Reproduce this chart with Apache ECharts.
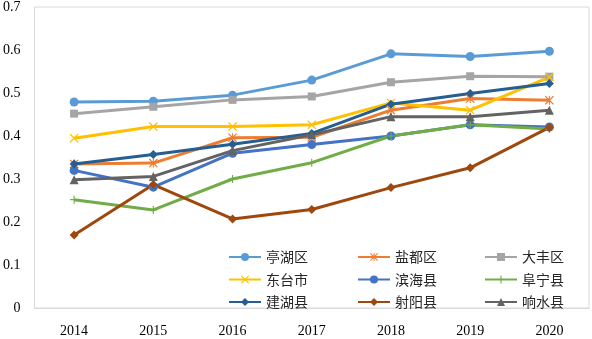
<!DOCTYPE html>
<html>
<head>
<meta charset="utf-8">
<script src="https://cdn.jsdelivr.net/npm/echarts@6/dist/echarts.min.js"></script>
</head>
<body style="margin: 0; padding: 0; background: #fff">
<div id="line" style="width: 592px; height: 339px"></div>
<script>
var years = ["2014", "2015", "2016", "2017", "2018", "2019", "2020"];
var yTicks = [0, 0.1, 0.2, 0.3, 0.4, 0.5, 0.6, 0.7];

var tinghu = [0.479, 0.481, 0.495, 0.530, 0.591, 0.585, 0.597];
var yandu = [0.335, 0.337, 0.396, 0.397, 0.460, 0.487, 0.483];
var dafeng = [0.452, 0.468, 0.484, 0.492, 0.525, 0.539, 0.538];
var dongtai = [0.395, 0.422, 0.422, 0.426, 0.477, 0.460, 0.537];
var binhai = [0.320, 0.281, 0.360, 0.380, 0.400, 0.426, 0.421];
var funing = [0.252, 0.228, 0.300, 0.338, 0.400, 0.426, 0.416];
var jianhu = [0.335, 0.357, 0.381, 0.406, 0.474, 0.499, 0.522];
var sheyang = [0.170, 0.287, 0.207, 0.229, 0.280, 0.326, 0.420];
var xiangshui = [0.298, 0.306, 0.366, 0.403, 0.445, 0.445, 0.460];

// 标记形状
var xMark = "path://M1,0L5,4L9,0L10,1L6,5L10,9L9,10L5,6L1,10L0,9L4,5L0,1Z";
var starMark = xMark + "M4.4,0L5.6,0L5.6,10L4.4,10Z";
var plusMark = "path://M4.3,0L5.7,0L5.7,10L4.3,10ZM0,4.3L10,4.3L10,5.7L0,5.7Z";

function makeSeries(name, data, color, symbol, size) {
  return {
    name: name,
    type: "line",
    data: data,
    symbol: symbol,
    symbolSize: size,
    showAllSymbol: true,
    itemStyle: { color: color },
    lineStyle: { color: color, width: 3 },
  };
}

function makeLegend(names, left) {
  return {
    data: names,
    orient: "vertical",
    left: left,
    top: 245,
    itemWidth: 32,
    itemHeight: 10,
    itemGap: 8.5,
    textStyle: {
      fontFamily: "Noto Sans CJK SC",
      fontSize: 14,
      color: "#262626",
    },
  };
}

var myChart = echarts.init(document.getElementById("line"));
var option = {
  animation: false,
  legend: [
    makeLegend(["亭湖区", "东台市", "建湖县"], 223),
    makeLegend(["盐都区", "滨海县", "射阳县"], 352),
    makeLegend(["大丰区", "阜宁县", "响水县"], 479),
  ],
  grid: {
    show: true,
    left: 33,
    right: 3,
    top: 5,
    bottom: 31,
    borderColor: "#D9D9D9",
    borderWidth: 1,
  },
  xAxis: {
    type: "category",
    data: years,
    boundaryGap: true,
    axisTick: { show: false },
    axisLine: { lineStyle: { color: "#D9D9D9", width: 1 } },
    axisLabel: {
      margin: 16,
      color: "#000",
      fontFamily: "Liberation Serif",
      fontSize: 14,
    },
  },
  yAxis: {
    type: "value",
    min: yTicks[0],
    max: yTicks[yTicks.length - 1],
    interval: 0.1,
    splitLine: { show: false },
    axisLine: { show: false },
    axisTick: { show: false },
    axisLabel: {
      margin: 14,
      color: "#000",
      fontFamily: "Liberation Serif",
      fontSize: 14,
      formatter: function (v) {
        return v === 0 ? "0" : v.toFixed(1);
      },
    },
  },
  series: [
    makeSeries("亭湖区", tinghu, "#5B9BD5", "circle", 9),
    makeSeries("盐都区", yandu, "#ED7D31", starMark, 9),
    makeSeries("大丰区", dafeng, "#A5A5A5", "rect", 8),
    makeSeries("东台市", dongtai, "#FFC000", xMark, 9),
    makeSeries("滨海县", binhai, "#4472C4", "circle", 9),
    makeSeries("阜宁县", funing, "#70AD47", plusMark, 8),
    makeSeries("建湖县", jianhu, "#255E91", "diamond", 9),
    makeSeries("射阳县", sheyang, "#9E480E", "diamond", 9),
    makeSeries("响水县", xiangshui, "#636363", "triangle", 9),
  ],
};
myChart.setOption(option);
</script>
</body>
</html>
